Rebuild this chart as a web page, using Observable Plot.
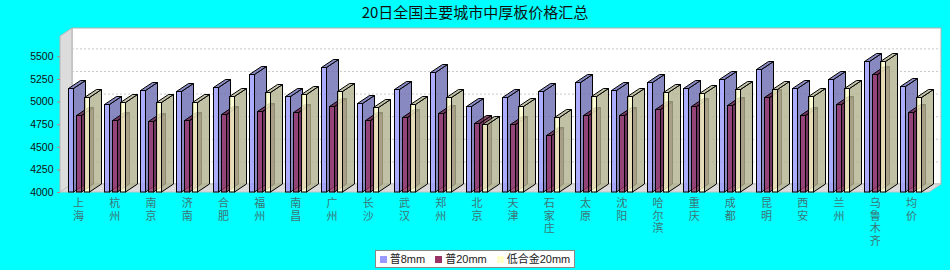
<!DOCTYPE html>
<html><head><meta charset="utf-8">
<script src="https://cdn.jsdelivr.net/npm/d3@7"></script>
<script src="https://cdn.jsdelivr.net/npm/@observablehq/plot@0.6"></script>
<style>
html,body{margin:0;padding:0;background:#00ffff;width:950px;height:270px;overflow:hidden;}
#title{height:28px;box-sizing:border-box;padding-top:3px;text-align:center;font:15px/17px "Noto Sans CJK SC",sans-serif;color:#111;}
#chart svg{display:block;overflow:visible;}
#legend{display:flex;justify-content:center;margin-top:2px;}
#legend .box{display:flex;align-items:center;background:#fff;border:1px solid #888;padding:1px 4px;font:11px/14px "Liberation Sans","Noto Sans CJK SC",sans-serif;color:#222;}
.item{display:flex;align-items:center;margin-right:10px}
.item:last-child{margin-right:0}
.sw{width:7px;height:7px;margin-right:3px}
</style></head><body>
<div id="title">20日全国主要城市中厚板价格汇总</div>
<div id="chart"></div>
<div id="legend"><div class="box"></div></div>
<script>
// ---- data ----
const cities = ["上海","杭州","南京","济南","合肥","福州","南昌","广州","长沙","武汉","郑州","北京","天津","石家庄","太原","沈阳","哈尔滨","重庆","成都","昆明","西安","兰州","乌鲁木齐","均价"];
const seriesNames = ["普8mm","普20mm","低合金20mm"];
const pu8mm   = [5150,4970,5130,5120,5160,5300,5060,5380,4980,5140,5330,4950,5050,5120,5220,5130,5220,5150,5250,5360,5150,5250,5450,5170];
const pu20mm  = [4850,4800,4790,4800,4860,4900,4880,4950,4800,4830,4870,4760,4750,4630,4850,4850,4920,4950,4960,5050,4850,4970,5310,4880];
const dhj20mm = [5050,5000,4990,5000,5060,5110,5080,5120,4940,4970,5050,4750,4950,4830,5060,5060,5110,5100,5140,5140,5060,5150,5450,5050];
const yTicks = [4000,4250,4500,4750,5000,5250,5500];
const yMax = 5725;

// ---- style / layout ----
const seriesValues = [pu8mm, pu20mm, dhj20mm];
const frontColors = ["#9999ff","#993366","#ffffcc"];
const sideColors  = ["#6b6bb2","#6b2347","#b2b28e"];
const W = 950, H = 220, ML = 60, MR = 21, MT = 8, MB = 56;
const DX = 12, DY = -8, BW = 5, OFFS = [7.7, 15.7, 23.7];
const band = (W - ML - MR) / cities.length;

const pts = a => a.map(p => p.join(",")).join(" ");

const walls = (index, scales, values, dims) => {
  const x0 = dims.marginLeft, x1 = dims.width - dims.marginRight;
  const y0 = dims.marginTop, y1 = dims.height - dims.marginBottom;
  const g = d3.create("svg:g");
  g.append("rect").attr("x", x0 + DX).attr("y", y0 + DY).attr("width", x1 - x0).attr("height", y1 - y0)
    .attr("fill", "#fff").attr("stroke", "#a8b4b4");
  g.append("polygon").attr("points", pts([[x0,y0],[x0+DX,y0+DY],[x0+DX,y1+DY],[x0,y1]]))
    .attr("fill", "#dcdcdc").attr("stroke", "#b4b4b4");
  g.append("polygon").attr("points", pts([[x0,y1],[x0+DX,y1+DY],[x1+DX,y1+DY],[x1,y1]]))
    .attr("fill", "#dcdcdc").attr("stroke", "#c4c4c4");
  return g.node();
};

function bar3d(k) {
  return (index, scales, values) => {
    const g = d3.create("svg:g");
    for (const i of index) {
      const xa = Math.round(values.x[i] + OFFS[k]) + 0.5, xb = xa + BW;
      const yt = Math.round(Math.min(values.y1[i], values.y2[i])) + 0.5;
      const yb = Math.max(values.y1[i], values.y2[i]);
      g.append("rect").attr("x", xa).attr("y", yt).attr("width", BW).attr("height", yb - yt)
        .attr("fill", frontColors[k]).attr("fill-opacity", 0.8).attr("stroke", "#000");
      g.append("polygon").attr("points", pts([[xb,yt],[xb+DX,yt+DY],[xb+DX,yb+DY],[xb,yb]]))
        .attr("fill", sideColors[k]).attr("fill-opacity", 0.8).attr("stroke", "#000");
      g.append("polygon").attr("points", pts([[xa,yt],[xa+DX,yt+DY],[xb+DX,yt+DY],[xb,yt]]))
        .attr("fill", sideColors[k]).attr("fill-opacity", 0.8).attr("stroke", "#000");
    }
    return g.node();
  };
}

const chart = Plot.plot({
  width: W, height: H, marginLeft: ML, marginRight: MR, marginTop: MT, marginBottom: MB,
  style: {background: "transparent", overflow: "visible", fontFamily: "'Liberation Sans','Noto Sans CJK SC',sans-serif"},
  x: {type: "band", domain: cities, paddingInner: 0, paddingOuter: 0, round: false, axis: null},
  y: {domain: [yTicks[0], yMax], axis: null},
  marks: [
    walls,
    Plot.ruleY(yTicks.slice(1), {dx: DX, dy: DY, stroke: "#c8c8c8", strokeDasharray: "2,2"}),
    ...seriesValues.map((vals, k) => Plot.barY(
      cities.map((c, i) => ({city: c, v: vals[i]})),
      {x: "city", y1: yTicks[0], y2: "v", fill: frontColors[k], fillOpacity: 0.8, stroke: "#000",
       insetLeft: OFFS[k], insetRight: band - OFFS[k] - BW, render: bar3d(k)})),
    Plot.axisY(yTicks, {tickSize: 3, tickPadding: 4, stroke: "#c08080", fill: "#111", fontSize: 10.5, label: null, tickFormat: d => String(d)}),
    Plot.text(cities, {x: d => d, text: d => Array.from(d).join("\n"), frameAnchor: "bottom", lineAnchor: "top",
      dy: 6, fontSize: 11, lineHeight: 1.13, fill: "#3d7575", fontFamily: "'Noto Sans CJK SC',sans-serif"})
  ]
});
document.getElementById("chart").appendChild(chart);

const box = document.querySelector("#legend .box");
seriesNames.forEach((name, k) => {
  const it = document.createElement("div"); it.className = "item";
  const sw = document.createElement("span"); sw.className = "sw"; sw.style.background = frontColors[k];
  const tx = document.createElement("span"); tx.textContent = name;
  it.appendChild(sw); it.appendChild(tx); box.appendChild(it);
});
</script></body></html>
